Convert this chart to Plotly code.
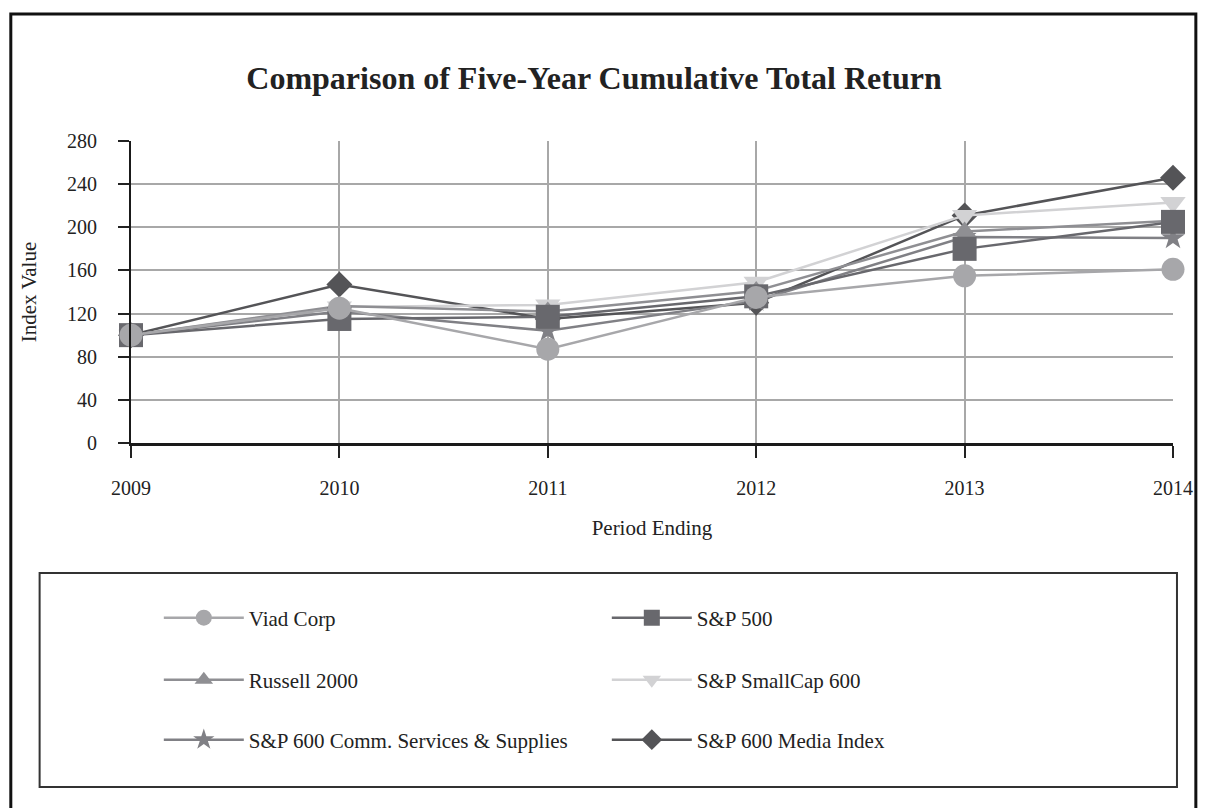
import plotly.graph_objects as go

years = [2009, 2010, 2011, 2012, 2013, 2014]
year_labels = ["2009", "2010", "2011", "2012", "2013", "2014"]

viad = [100, 125, 87, 135, 155, 161]
sp500 = [100, 115, 117, 136, 180, 205]
russell2000 = [100, 127, 122, 141, 196, 206]
smallcap600 = [100, 126, 128, 149, 211, 223]
comm_services = [100, 122, 104, 132, 191, 190]
media_index = [100, 147, 115, 130, 211, 246]

y_ticks = [0, 40, 80, 120, 160, 200, 240, 280]

W, H = 1205, 808
L, R, T, B = 131, 25, 141, 365
PW, PH = W - L - R, H - T - B


def px_x(p):
    return (p - L) / PW


def px_y(p):
    return 1 - (p - T) / PH


FONT = "Liberation Serif, Times New Roman, serif"

# (name, values, color, symbol, size, legend, rank)
series = [
    ("S&P 600 Media Index", media_index, "#545457", "diamond", 20, "legend3", 2),
    ("S&P 600 Comm. Services & Supplies", comm_services, "#808085", "star", 18, "legend3", 1),
    ("S&P SmallCap 600", smallcap600, "#d2d2d4", "triangle-down", 22, "legend2", 2),
    ("Russell 2000", russell2000, "#8f8f93", "triangle-up", 20, "legend2", 1),
    ("S&P 500", sp500, "#68686d", "square", 24, "legend", 2),
    ("Viad Corp", viad, "#a7a7aa", "circle", 23, "legend", 1),
]

fig = go.Figure()
for name, vals, color, sym, size, leg, rank in series:
    fig.add_trace(go.Scatter(
        x=years, y=vals, name=name, mode="lines+markers",
        line=dict(color=color, width=2.5),
        marker=dict(symbol=sym, size=size, color=color, line=dict(width=0)),
        legend=leg, legendrank=rank, cliponaxis=False,
    ))

leg_common = dict(
    orientation="h", xanchor="left", yanchor="middle",
    entrywidth=353, entrywidthmode="pixels",
    font=dict(family=FONT, size=21, color="#222222"),
    bgcolor="rgba(0,0,0,0)", borderwidth=0, itemwidth=80,
    traceorder="normal",
)

fig.update_layout(
    width=W, height=H,
    margin=dict(l=L, r=R, t=T, b=B),
    paper_bgcolor="white", plot_bgcolor="white",
    font=dict(family=FONT, color="#222222"),
    title=dict(
        text="<b>Comparison of Five-Year Cumulative Total Return</b>",
        x=594 / W, xanchor="center", y=1 - 78 / H, yanchor="middle",
        font=dict(family=FONT, size=32, color="#222222"),
    ),
    xaxis=dict(
        range=[2009, 2014], tickmode="array", tickvals=years, ticktext=year_labels,
        showgrid=True, gridcolor="#a8a8a8", gridwidth=1.5,
        ticks="outside", ticklen=12, tickcolor="#222222", tickwidth=1.5,
        showline=True, linecolor="#1a1a1a", linewidth=2.5,
        tickfont=dict(family=FONT, size=20, color="#222222"),
        ticklabelstandoff=13,
        title=dict(text="Period Ending", font=dict(family=FONT, size=21, color="#222222"), standoff=23),
        zeroline=False, mirror=False,
    ),
    yaxis=dict(
        range=[0, 280], tickmode="array", tickvals=y_ticks,
        showgrid=True, gridcolor="#a8a8a8", gridwidth=1.5,
        ticks="outside", ticklen=11, tickcolor="#222222", tickwidth=1.5,
        showline=True, linecolor="#1a1a1a", linewidth=2,
        tickfont=dict(family=FONT, size=20, color="#222222"),
        ticklabelstandoff=17,
        title=dict(text="Index Value", font=dict(family=FONT, size=21, color="#222222"), standoff=25),
        zeroline=False,
    ),
    legend=dict(x=px_x(159), y=px_y(618), **leg_common),
    legend2=dict(x=px_x(159), y=px_y(680), **leg_common),
    legend3=dict(x=px_x(159), y=px_y(740), **leg_common),
    showlegend=True,
    shapes=[
        dict(type="rect", xref="paper", yref="paper",
             x0=px_x(10), x1=px_x(1203), y0=px_y(14), y1=px_y(830),
             line=dict(color="#111111", width=3), fillcolor="rgba(0,0,0,0)", layer="below"),
        dict(type="rect", xref="paper", yref="paper",
             x0=px_x(39), x1=px_x(1184), y0=px_y(573), y1=px_y(787),
             line=dict(color="#333333", width=2), fillcolor="rgba(0,0,0,0)", layer="below"),
    ],
)

fig.write_html("out.html")
